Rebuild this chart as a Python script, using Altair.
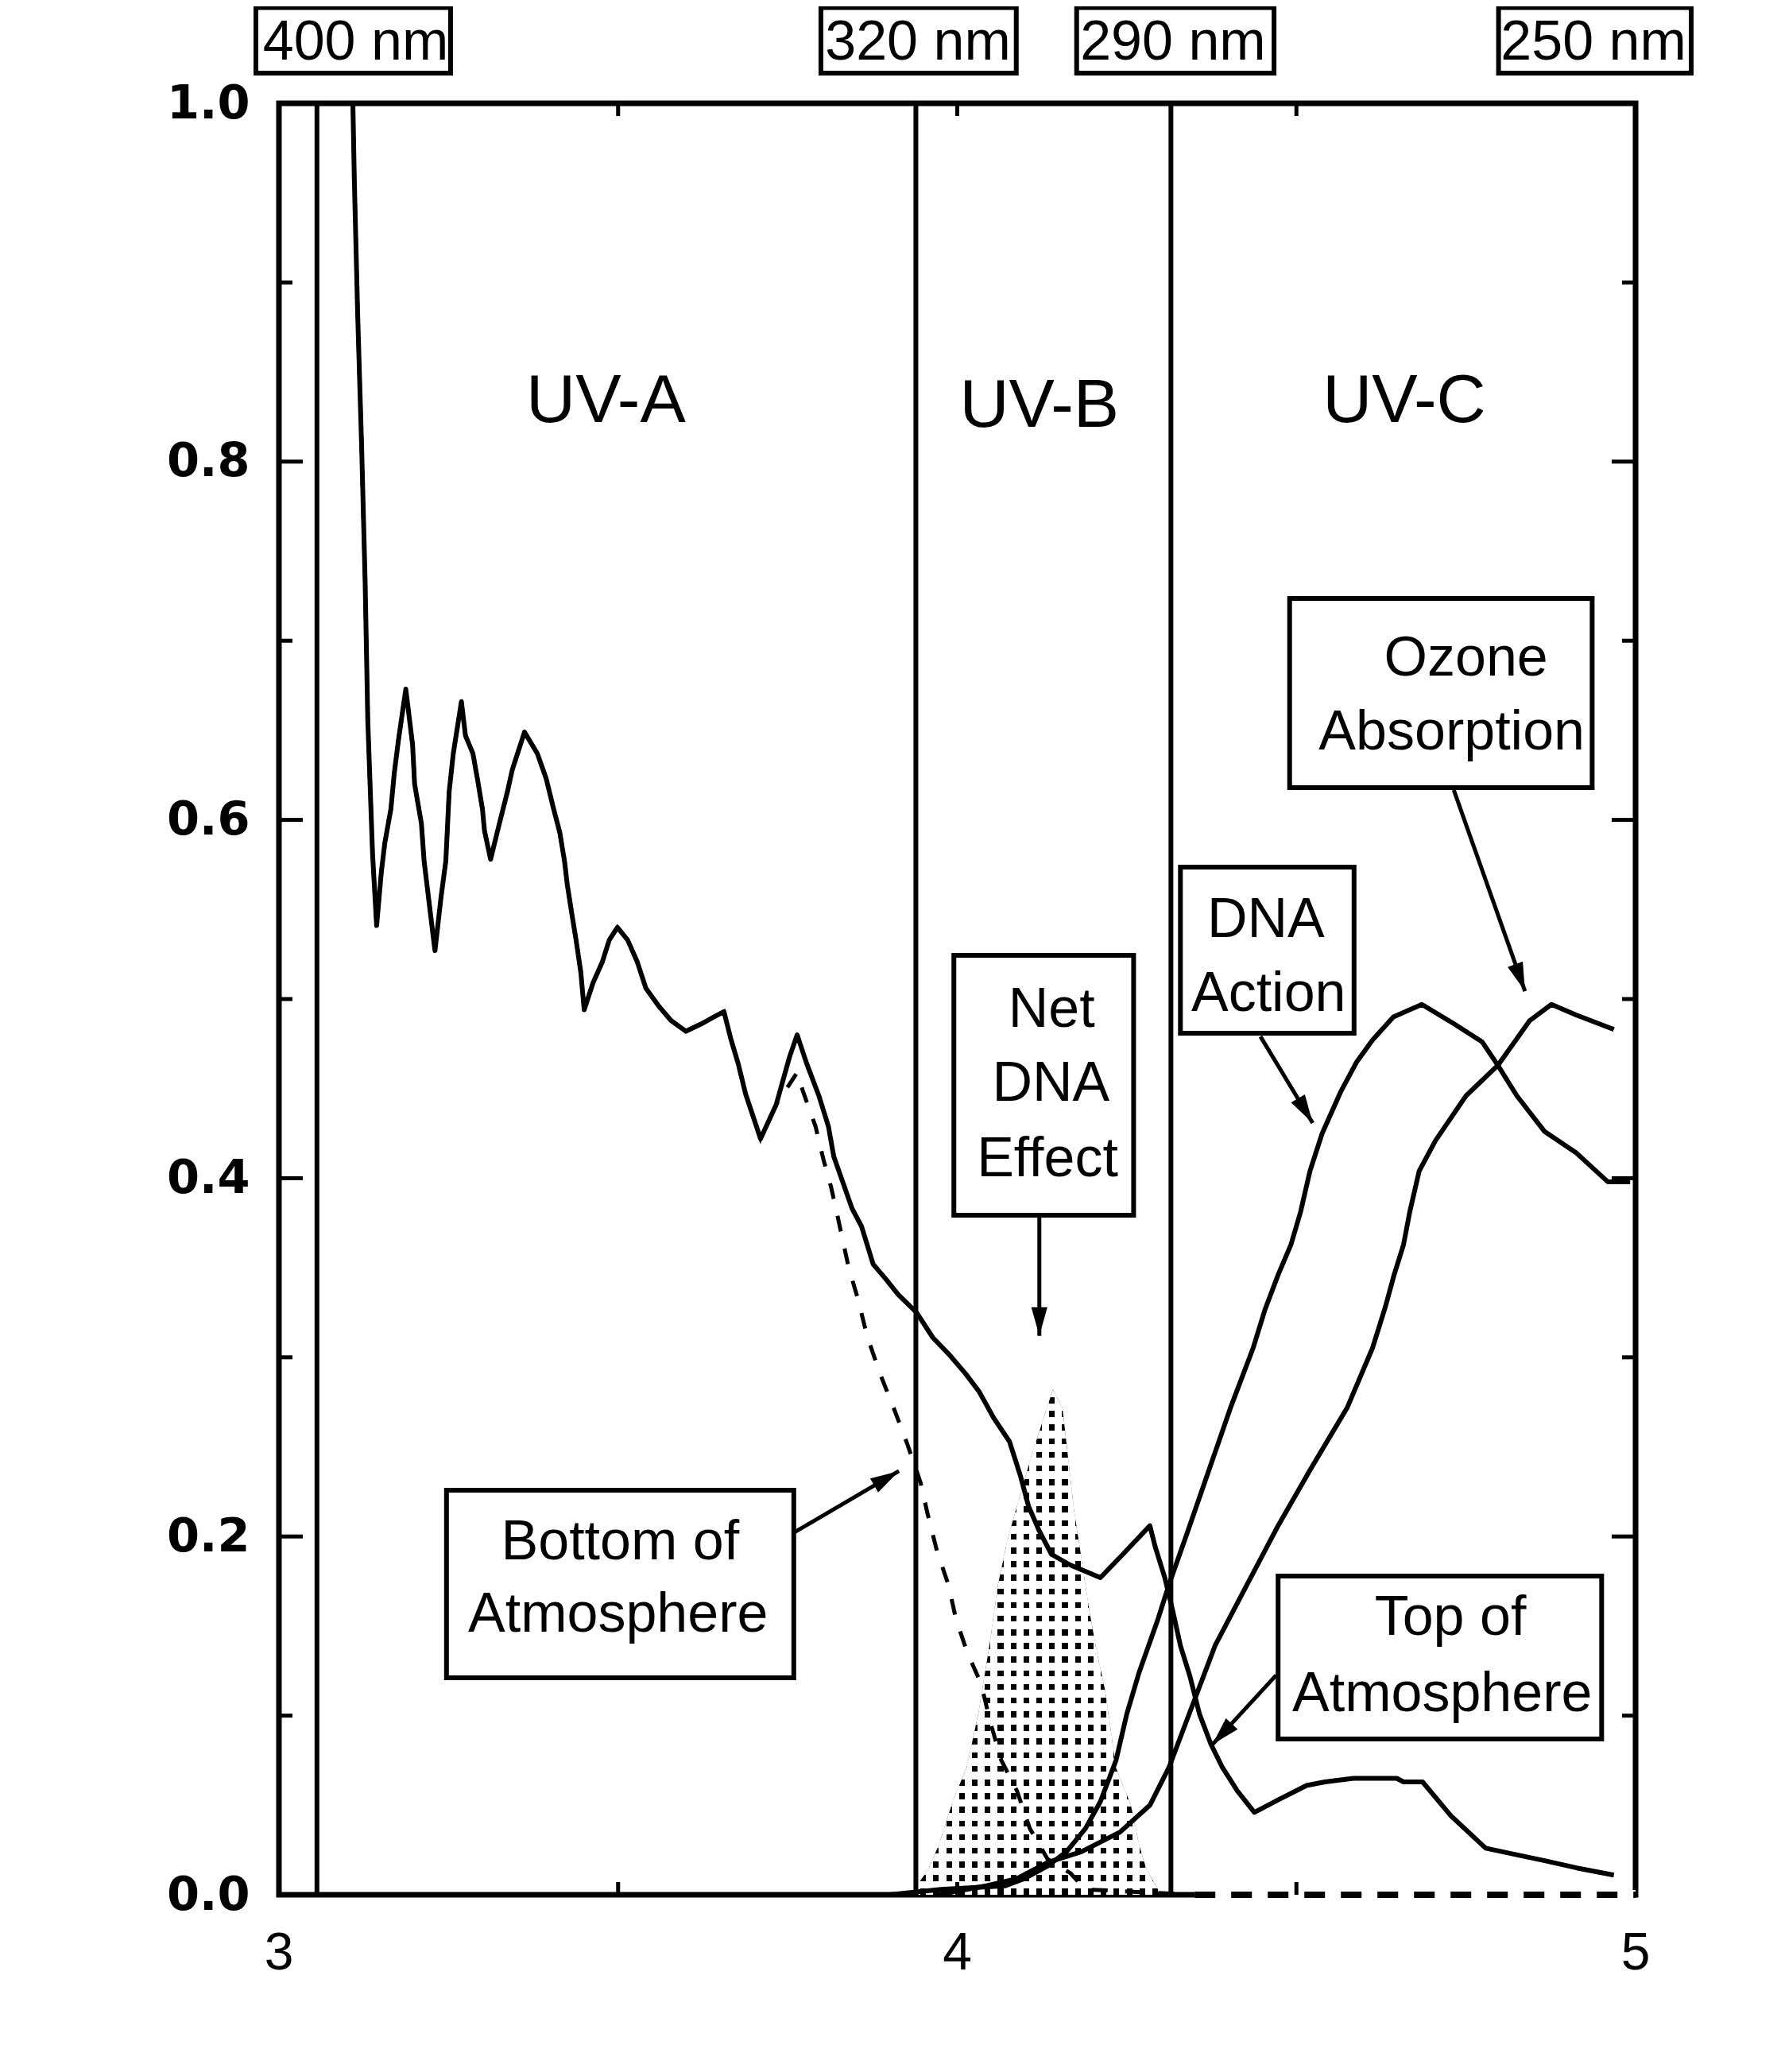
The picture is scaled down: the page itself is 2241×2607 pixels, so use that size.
import altair as alt
import pandas as pd

# ---------------- data ----------------
# Solar spectrum at the top of the atmosphere (solid)
toa_x = [3.109, 3.111, 3.116, 3.122, 3.127, 3.131, 3.138, 3.144, 3.151, 3.156,
         3.165, 3.170, 3.176, 3.187, 3.197, 3.200, 3.210, 3.214, 3.221, 3.230,
         3.239, 3.246, 3.251, 3.257, 3.269, 3.275, 3.286, 3.293, 3.300, 3.303,
         3.312, 3.325, 3.337, 3.344, 3.362, 3.381, 3.394, 3.405, 3.414, 3.421,
         3.425, 3.432, 3.438, 3.445, 3.450, 3.463, 3.477, 3.487, 3.499, 3.514,
         3.528, 3.541, 3.560, 3.578, 3.600, 3.622, 3.641, 3.656, 3.666, 3.677,
         3.688, 3.710, 3.733, 3.753, 3.764, 3.778, 3.796, 3.810, 3.818, 3.832,
         3.845, 3.859, 3.876, 3.894, 3.913, 3.940, 3.964, 3.987, 4.012, 4.032,
         4.054, 4.077, 4.093, 4.105, 4.121, 4.139, 4.167, 4.211, 4.244, 4.284,
         4.292, 4.306, 4.318, 4.329, 4.343, 4.357, 4.374, 4.391, 4.413, 4.438,
         4.473, 4.515, 4.542, 4.584, 4.648, 4.658, 4.686, 4.728, 4.779, 4.816,
         4.866, 4.913, 4.968]
toa_y = [1.000, 0.959, 0.883, 0.807, 0.734, 0.655, 0.581, 0.541, 0.571, 0.587,
         0.606, 0.626, 0.644, 0.673, 0.642, 0.620, 0.598, 0.577, 0.555, 0.527,
         0.557, 0.577, 0.616, 0.637, 0.666, 0.647, 0.637, 0.622, 0.606, 0.594,
         0.578, 0.598, 0.616, 0.628, 0.649, 0.637, 0.623, 0.606, 0.593, 0.577,
         0.564, 0.547, 0.533, 0.515, 0.494, 0.509, 0.521, 0.533, 0.540, 0.533,
         0.521, 0.506, 0.496, 0.488, 0.482, 0.486, 0.490, 0.493, 0.478, 0.464,
         0.447, 0.422, 0.441, 0.468, 0.480, 0.464, 0.446, 0.429, 0.412, 0.397,
         0.383, 0.373, 0.352, 0.344, 0.335, 0.325, 0.311, 0.302, 0.291, 0.281,
         0.266, 0.253, 0.234, 0.217, 0.203, 0.190, 0.184, 0.177, 0.190, 0.206,
         0.194, 0.177, 0.158, 0.139, 0.122, 0.101, 0.084, 0.071, 0.058, 0.046,
         0.053, 0.061, 0.063, 0.065, 0.065, 0.063, 0.063, 0.044, 0.026, 0.023,
         0.019, 0.015, 0.011]

# Bottom of atmosphere (dashed): same as the top curve up to 3.733, then its own values
boa_shared = 63
boa_x_tail = [3.764, 3.773, 3.791, 3.803, 3.814, 3.824, 3.840, 3.854, 3.867, 3.886,
              3.906, 3.926, 3.946, 3.956, 3.970, 3.987, 3.998, 4.015, 4.035, 4.049,
              4.065, 4.088, 4.107, 4.133, 4.167, 4.189, 4.350, 5.000]
boa_y_tail = [0.459, 0.448, 0.429, 0.410, 0.395, 0.378, 0.350, 0.332, 0.312, 0.291,
              0.272, 0.252, 0.230, 0.213, 0.192, 0.173, 0.154, 0.135, 0.118, 0.096,
              0.075, 0.058, 0.037, 0.020, 0.012, 0.003, 0.000, 0.000]

# DNA action spectrum
dna_x = [3.900, 3.976, 4.071, 4.099, 4.133, 4.161, 4.189, 4.211, 4.234, 4.250,
         4.268, 4.296, 4.312, 4.339, 4.371, 4.403, 4.436, 4.454, 4.473, 4.492,
         4.506, 4.520, 4.538, 4.565, 4.589, 4.612, 4.643, 4.685, 4.733, 4.774,
         4.797, 4.825, 4.866, 4.913, 4.959, 4.992]
dna_y = [0.000, 0.003, 0.005, 0.009, 0.016, 0.024, 0.037, 0.052, 0.075, 0.101,
         0.124, 0.154, 0.173, 0.202, 0.237, 0.272, 0.305, 0.327, 0.346, 0.363,
         0.381, 0.404, 0.425, 0.448, 0.465, 0.477, 0.490, 0.497, 0.486, 0.476,
         0.463, 0.446, 0.426, 0.414, 0.398, 0.398]

# Ozone absorption
oz_x = [3.970, 4.043, 4.088, 4.133, 4.183, 4.240, 4.284, 4.312, 4.352, 4.380,
        4.427, 4.473, 4.520, 4.575, 4.612, 4.631, 4.644, 4.658, 4.667, 4.681,
        4.705, 4.750, 4.797, 4.844, 4.876, 4.913, 4.968]
oz_y = [0.000, 0.005, 0.009, 0.018, 0.024, 0.035, 0.050, 0.071, 0.111, 0.139,
        0.173, 0.206, 0.237, 0.272, 0.305, 0.328, 0.346, 0.363, 0.381, 0.404,
        0.421, 0.446, 0.463, 0.488, 0.497, 0.491, 0.483]

# Net DNA effect (stippled area)
net_x = [3.935, 3.940, 3.957, 3.973, 3.995, 4.014, 4.032, 4.049, 4.060, 4.074,
         4.088, 4.111, 4.141, 4.155, 4.161, 4.172, 4.183, 4.194, 4.206, 4.218,
         4.234, 4.256, 4.268, 4.279, 4.296]
net_y = [0.000, 0.005, 0.014, 0.028, 0.054, 0.071, 0.103, 0.143, 0.173, 0.198,
         0.217, 0.247, 0.282, 0.272, 0.252, 0.215, 0.188, 0.160, 0.135, 0.114,
         0.071, 0.050, 0.028, 0.014, 0.003]

# band boundaries (400, 320, 290 nm) in eV
band_lines = [3.056, 3.939, 4.315]
band_names = ["UV-A", "UV-B", "UV-C"]

x_label_values = [3, 4, 5]
y_label_values = [0.0, 0.2, 0.4, 0.6, 0.8, 1.0]
x_tick_values = [3.5, 4.0, 4.5]
y_major_ticks = [0.2, 0.4, 0.6, 0.8]
y_minor_ticks = [0.1, 0.3, 0.5, 0.7, 0.9]

assert len(toa_x) == len(toa_y)
assert len(dna_x) == len(dna_y) and len(oz_x) == len(oz_y) and len(net_x) == len(net_y)

# ---------------- annotation layout ----------------
W, H = 1707, 2254

band_label_x = [3.482, 4.121, 4.659]
band_label_y = [0.836, 0.833, 0.836]

nm_texts = ["400 nm", "320 nm", "290 nm", "250 nm"]
nm_box_x1 = [2.966, 3.799, 4.176, 4.798]
nm_box_x2 = [3.253, 4.087, 4.467, 5.082]
nm_text_x = [3.113, 3.942, 4.318, 4.938]

box_x1 = [4.490, 4.329, 3.995, 3.247, 4.473]
box_x2 = [4.936, 4.585, 4.260, 3.759, 4.950]
box_y1 = [0.7236, 0.5736, 0.5244, 0.2258, 0.1779]
box_y2 = [0.6180, 0.4809, 0.3793, 0.1211, 0.0870]

label_text = ["Ozone", "Absorption", "DNA", "Action", "Net", "DNA", "Effect",
              "Bottom of", "Atmosphere", "Top of", "Atmosphere"]
label_x = [4.750, 4.729, 4.455, 4.459, 4.139, 4.138, 4.133, 3.503, 3.500, 4.727, 4.715]
label_y = [0.6917, 0.6504, 0.5457, 0.5044, 0.4956, 0.4543, 0.4122, 0.1983, 0.1579, 0.1562, 0.1136]

arrow_x0 = [4.121, 4.447, 4.732, 3.759, 4.470]
arrow_y0 = [0.3793, 0.4791, 0.6167, 0.2021, 0.1225]
arrow_x1 = [4.121, 4.524, 4.837, 3.914, 4.376]
arrow_y1 = [0.312, 0.4308, 0.5044, 0.2365, 0.0838]
arrow_angle = [180, 149, 160, 60, 223]

# ---------------- frames ----------------
toa_df = pd.DataFrame({"x": toa_x, "y": toa_y})
boa_df = pd.DataFrame({"x": toa_x[:boa_shared] + boa_x_tail,
                       "y": toa_y[:boa_shared] + boa_y_tail})
dna_df = pd.DataFrame({"x": dna_x, "y": dna_y})
oz_df = pd.DataFrame({"x": oz_x, "y": oz_y})
net_df = pd.DataFrame({"x": net_x, "y": net_y})
band_df = pd.DataFrame({"x": band_lines})
band_lab_df = pd.DataFrame({"x": band_label_x, "y": band_label_y, "t": band_names})
nm_box_df = pd.DataFrame({"x1": nm_box_x1, "x2": nm_box_x2,
                          "y1": [1.0535] * 4, "y2": [1.0169] * 4})
nm_text_df = pd.DataFrame({"x": nm_text_x, "y": [1.036] * 4, "t": nm_texts})
box_df = pd.DataFrame({"x1": box_x1, "x2": box_x2, "y1": box_y1, "y2": box_y2})
lab_df = pd.DataFrame({"x": label_x, "y": label_y, "t": label_text})
arr_df = pd.DataFrame({"x0": arrow_x0, "y0": arrow_y0, "x1": arrow_x1,
                       "y1": arrow_y1, "a": arrow_angle})
xlab_df = pd.DataFrame({"x": x_label_values,
                        "t": [str(v) for v in x_label_values]})

# ---------------- scales / axes ----------------
xs = alt.Scale(domain=[3, 5], nice=False, zero=False)
ys = alt.Scale(domain=[0, 1], nice=False, zero=False)
x_axis = alt.Axis(values=x_label_values, title=None, ticks=False, labels=False,
                  domain=False, grid=False)
y_axis = alt.Axis(values=y_label_values, format=".1f", title=None, ticks=False,
                  domain=False, grid=False, labelFont="DejaVu Sans",
                  labelFontWeight="bold", labelFontSize=59, labelColor="black",
                  labelPadding=37, labelFlush=False, labelOverlap=False,
                  labelBound=False)


def X(f="x"):
    return alt.X(f"{f}:Q", scale=xs, axis=x_axis)


def Y(f="y"):
    return alt.Y(f"{f}:Q", scale=ys, axis=y_axis)


def stripes(n, duty):
    clear = "rgba(255,255,255,0)"
    stops = []
    for i in range(n):
        a, b, c = i / n, (i + duty) / n, (i + 1) / n
        stops += [alt.GradientStop(offset=a, color="white"),
                  alt.GradientStop(offset=b, color="white"),
                  alt.GradientStop(offset=b, color=clear),
                  alt.GradientStop(offset=c, color=clear)]
    return stops


grad_cols = alt.LinearGradient(gradient="linear", stops=stripes(19, 0.56),
                               x1=0, x2=1, y1=0, y2=0)
grad_rows = alt.LinearGradient(gradient="linear", stops=stripes(37, 0.56),
                               x1=0, x2=0, y1=0, y2=1)

layers = []
# stippled Net DNA effect
layers.append(alt.Chart(net_df).mark_area(color="black").encode(x=X(), y=Y()))
layers.append(alt.Chart(net_df).mark_area(fill=grad_cols).encode(
    x=X(), y=Y(), y2=alt.value(H - 5)))
layers.append(alt.Chart(net_df).mark_area(fill=grad_rows).encode(
    x=X(), y=Y(), y2=alt.value(H - 5)))

# band boundary lines
layers.append(alt.Chart(band_df).mark_rule(color="black", strokeWidth=6).encode(x=X()))

# bottom of atmosphere
layers.append(alt.Chart(boa_df).transform_filter("datum.x >= 4.35").mark_line(
    color="white", strokeWidth=12).encode(x=X(), y=Y()))
layers.append(alt.Chart(boa_df).transform_filter("datum.x >= 4.35").mark_line(
    color="black", strokeWidth=8, strokeDash=[26, 20]).encode(x=X(), y=Y()))
layers.append(alt.Chart(boa_df).transform_filter("datum.x <= 4.35").mark_line(
    color="black", strokeWidth=5, strokeDash=[20, 22]).encode(x=X(), y=Y()))

# solid curves
for df in (toa_df, dna_df, oz_df):
    layers.append(alt.Chart(df).mark_line(color="black", strokeWidth=6,
                                          strokeJoin="round").encode(x=X(), y=Y()))

# inward ticks
ymaj = pd.DataFrame({"y": y_major_ticks})
ymin = pd.DataFrame({"y": y_minor_ticks})
xt = pd.DataFrame({"x": x_tick_values})
for df, ln in ((ymaj, 30), (ymin, 17)):
    layers.append(alt.Chart(df).mark_rule(color="black", strokeWidth=5).encode(
        y=Y(), x=alt.value(0), x2=alt.value(ln)))
    layers.append(alt.Chart(df).mark_rule(color="black", strokeWidth=5).encode(
        y=Y(), x=alt.value(W - ln), x2=alt.value(W)))
layers.append(alt.Chart(xt).mark_rule(color="black", strokeWidth=5).encode(
    x=X(), y=alt.value(H - 16), y2=alt.value(H)))
layers.append(alt.Chart(xt).mark_rule(color="black", strokeWidth=5).encode(
    x=X(), y=alt.value(0), y2=alt.value(16)))

# x tick labels
layers.append(alt.Chart(xlab_df).mark_text(
    font="Liberation Sans", fontSize=66, color="black", baseline="top",
    align="center").encode(x=X(), y=alt.value(H + 42), text="t:N"))

# boxes
for df in (nm_box_df, box_df):
    layers.append(alt.Chart(df).mark_rect(fill="white", stroke="black",
                                          strokeWidth=6).encode(
        x=X("x1"), x2="x2:Q", y=Y("y1"), y2="y2:Q"))

# arrows
layers.append(alt.Chart(arr_df).mark_rule(color="black", strokeWidth=5).encode(
    x=X("x0"), y=Y("y0"), x2="x1:Q", y2="y1:Q"))
layers.append(alt.Chart(arr_df).mark_point(
    shape="M0,0L0.45,1.6L-0.45,1.6Z", filled=True, color="black", opacity=1,
    size=2025).encode(x=X("x1"), y=Y("y1"), angle=alt.Angle("a:Q", scale=None)))

# texts
layers.append(alt.Chart(band_lab_df).mark_text(
    font="Liberation Sans", fontSize=86, color="black", baseline="middle",
    align="center", dy=5).encode(x=X(), y=Y(), text="t:N"))
layers.append(alt.Chart(nm_text_df).mark_text(
    font="Liberation Sans", fontSize=70, color="black",
    baseline="middle", align="center", dy=5).encode(x=X(), y=Y(), text="t:N"))
layers.append(alt.Chart(lab_df).mark_text(
    font="Liberation Sans", fontSize=70, color="black", baseline="middle",
    align="center", dy=4).encode(x=X(), y=Y(), text="t:N"))

chart = alt.layer(*layers).properties(
    width=W, height=H,
    padding={"left": 343, "top": 122, "right": 150, "bottom": 150},
    autosize=alt.AutoSizeParams(type="none"),
    background="white",
).configure_view(stroke="black", strokeWidth=7)

chart.save("out.html", embed_options={"renderer": "svg", "actions": False})
